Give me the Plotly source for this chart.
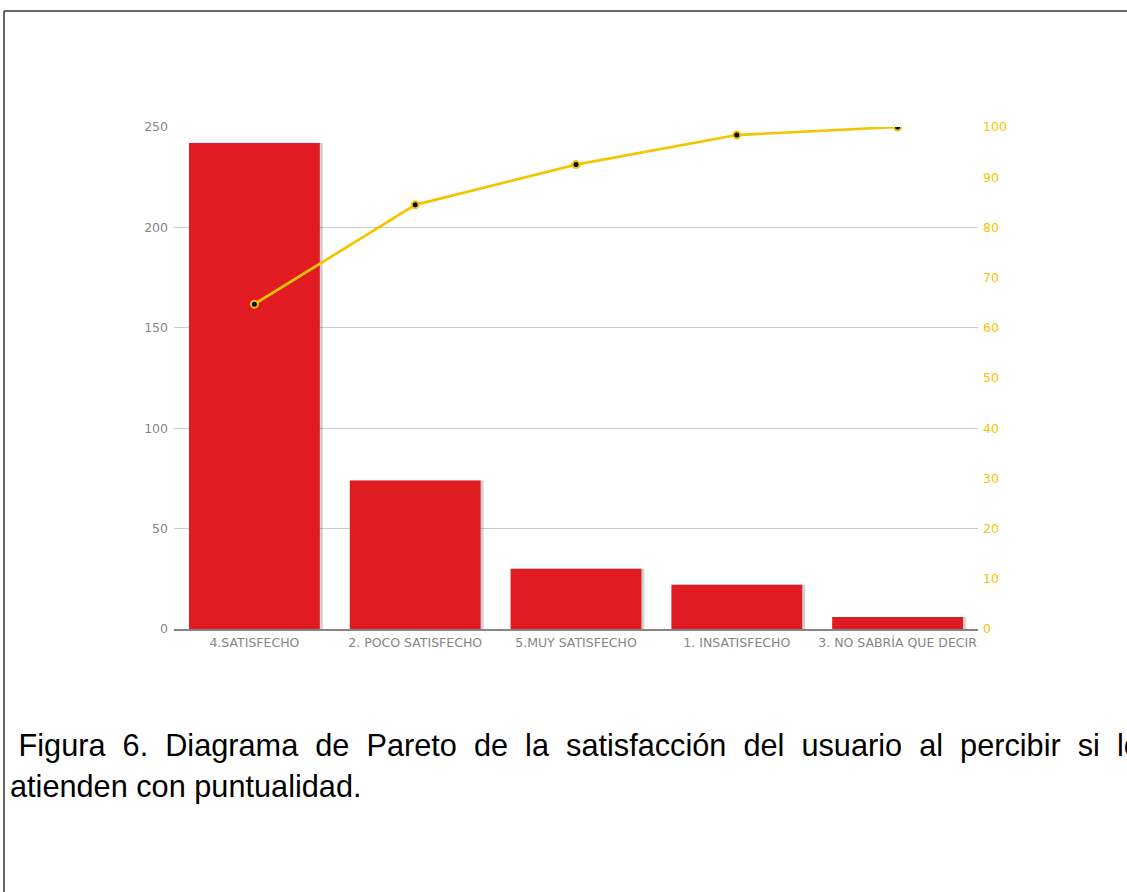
import plotly.graph_objects as go

# Pareto data: user satisfaction with punctuality
categorias = ["4.SATISFECHO", "2. POCO SATISFECHO", "5.MUY SATISFECHO",
              "1. INSATISFECHO", "3. NO SABRÍA QUE DECIR"]
frecuencias = [242, 74, 30, 22, 6]

total = sum(frecuencias)
acumulado = []
suma = 0
for f in frecuencias:
    suma += f
    acumulado.append(round(suma / total * 100, 2))

ticks_izq = [0, 50, 100, 150, 200, 250]
ticks_der = list(range(0, 101, 10))

W, H = 1127, 892
ROJO = "#E01B22"
ORO = "#F5C400"
GRIS = "#858585"
FUENTE_EJES = dict(family="DejaVu Sans", size=12.5, color=GRIS)

ancho_barra = 131 / 161

fig = go.Figure()

# soft drop shadow behind each bar
fig.add_trace(go.Bar(
    x=categorias, y=frecuencias,
    width=ancho_barra, offset=-ancho_barra / 2 + 3 / 161,
    marker=dict(color="rgba(0,0,0,0.18)", line=dict(width=0)),
    hoverinfo="skip", showlegend=False,
))
fig.add_trace(go.Bar(
    x=categorias, y=frecuencias,
    width=ancho_barra, offset=-ancho_barra / 2,
    marker=dict(color=ROJO, line=dict(width=0)),
    showlegend=False,
))
fig.add_trace(go.Scatter(
    x=categorias, y=acumulado, yaxis="y2",
    mode="lines+markers",
    line=dict(color=ORO, width=2.7),
    marker=dict(color="black", size=7, line=dict(color=ORO, width=2)),
    showlegend=False,
))

x0, x1 = 174 / W, 978 / W
y0, y1 = (H - 629) / H, (H - 127) / H

fig.update_layout(
    width=W, height=H,
    margin=dict(l=0, r=0, t=0, b=0),
    paper_bgcolor="white", plot_bgcolor="white",
    barmode="overlay",
    font=FUENTE_EJES,
    xaxis=dict(
        domain=[x0, x1], type="category",
        showline=True, linecolor=GRIS, linewidth=2,
        showgrid=False, ticks="", ticklabelstandoff=1,
        tickfont=FUENTE_EJES, automargin=False,
    ),
    yaxis=dict(
        domain=[y0, y1], range=[0, 250],
        tickvals=ticks_izq, showgrid=True, gridcolor="#cccccc", gridwidth=1,
        zeroline=False, showline=False, ticks="", ticklabelstandoff=5,
        tickfont=FUENTE_EJES, automargin=False,
    ),
    yaxis2=dict(
        overlaying="y", side="right", range=[0, 100],
        tickvals=ticks_der, showgrid=False, zeroline=False, showline=False,
        ticks="", ticklabelstandoff=4, automargin=False,
        tickfont=dict(family="DejaVu Sans", size=12.5, color=ORO),
    ),
)

# page frame lines
fig.add_shape(type="line", xref="paper", yref="paper",
              x0=4 / W, x1=1, y0=1 - 11 / H, y1=1 - 11 / H,
              line=dict(color="#333333", width=1.5))
fig.add_shape(type="line", xref="paper", yref="paper",
              x0=4 / W, x1=4 / W, y0=0, y1=1 - 11 / H,
              line=dict(color="#333333", width=1.5))

sep = " \u00a0"
linea1 = "\u00a0" + sep.join(["Figura", "6.", "Diagrama", "de", "Pareto", "de", "la",
                             "satisfacción", "del", "usuario", "al", "percibir",
                             "si", "lo"])
linea2 = "atienden con puntualidad."

# the caption box ends at the page edge; the last word runs past it
fig.add_annotation(text=linea1, xref="paper", yref="paper",
                   x=8 / W, y=1 - 745 / H, xanchor="left", yanchor="middle",
                   width=W - 8, align="left", showarrow=False,
                   font=dict(family="Liberation Sans", size=30.7, color="black"))
fig.add_annotation(text=linea2, xref="paper", yref="paper",
                   x=8 / W, y=1 - 786 / H, xanchor="left", yanchor="middle",
                   showarrow=False,
                   font=dict(family="Liberation Sans", size=30.7, color="black"))

fig.write_html("out.html")
